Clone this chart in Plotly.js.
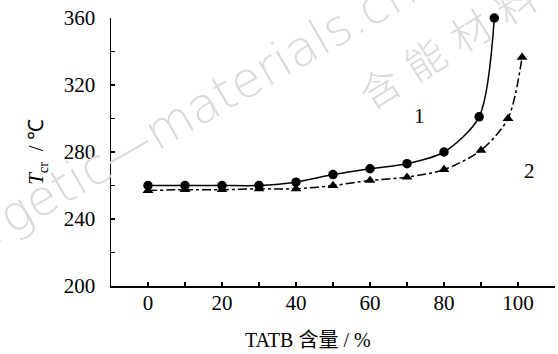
<!DOCTYPE html>
<html>
<head>
<meta charset="utf-8">
<script src="https://cdn.plot.ly/plotly-3.0.1.min.js"></script>
<style>html,body{margin:0;padding:0;background:#fff;}#chart{width:558px;height:354px;}</style>
</head>
<body>
<div id="chart"></div>
<script>
// Series 1 (circles, solid)
const x1 = [0, 10, 20, 30, 40, 50, 60, 70, 80, 89.5, 93.6];
const y1 = [260, 260, 260, 260, 262, 266.5, 270, 273, 280, 301, 360];
// Series 2 (triangles, dash-dot)
const x2 = [0, 10, 20, 30, 40, 50, 60, 70, 80, 90, 97.3, 101.1];
const y2 = [257, 257.5, 257.5, 258, 258, 260, 263, 265, 269.5, 281, 300, 336.5];

const xTickVals = [0, 20, 40, 60, 80, 100];
const xTickText = ['0', '20', '40', '60', '80', '100'];
const yTickVals = [200, 240, 280, 320, 360];
const yTickText = ['200', '240', '280', '320', '360'];

const serif = 'Liberation Serif, Times New Roman, serif';

const traces = [
  {
    x: x1, y: y1, mode: 'lines+markers', name: '1',
    line: {color: '#000', width: 1.5, shape: 'spline', smoothing: 0.8},
    marker: {symbol: 'circle', size: 9.5, color: '#000'},
    cliponaxis: false
  },
  {
    x: x2, y: y2, mode: 'lines+markers', name: '2',
    line: {color: '#000', width: 1.5, shape: 'spline', smoothing: 0.8, dash: 'dashdot'},
    marker: {symbol: 'triangle-up', size: 9.5, color: '#000'},
    cliponaxis: false
  }
];

const layout = {
  width: 558, height: 354,
  margin: {l: 111, r: 3, t: 18, b: 68},
  paper_bgcolor: '#fff', plot_bgcolor: 'rgba(0,0,0,0)',
  showlegend: false,
  font: {family: serif, size: 21, color: '#000'},
  xaxis: {
    range: [-10, 110], tickvals: xTickVals, ticktext: xTickText,
    ticks: 'inside', ticklen: 4, tickwidth: 1.2, tickcolor: '#000',
    minor: {tick0: 0, dtick: 10, ticks: 'inside', ticklen: 4, tickwidth: 1.2, tickcolor: '#000', showgrid: false},
    showline: true, linecolor: '#000', linewidth: 1.5,
    showgrid: false, zeroline: false,
    ticklabelstandoff: -3,
    tickfont: {family: serif, size: 21, color: '#000'}
  },
  yaxis: {
    range: [200, 360], tickvals: yTickVals, ticktext: yTickText,
    ticks: 'inside', ticklen: 4, tickwidth: 1.2, tickcolor: '#000',
    minor: {tick0: 200, dtick: 20, ticks: 'inside', ticklen: 4, tickwidth: 1.2, tickcolor: '#000', showgrid: false},
    showline: true, linecolor: '#000', linewidth: 1.5,
    showgrid: false, zeroline: false,
    tickfont: {family: serif, size: 21, color: '#000'},
    ticklabelstandoff: 10,
    title: {text: '<i>T</i><sub>cr</sub>  / ℃', font: {family: serif, size: 21, color: '#000'}, standoff: 14}
  },
  annotations: [
    {text: 'energetic—materials.cn', xref: 'paper', yref: 'paper', x: 0.110, y: 0.580,
     xanchor: 'center', yanchor: 'middle',
     showarrow: false, textangle: -30, font: {family: 'DejaVu Sans, sans-serif', size: 49, weight: 200, color: '#dadada'}},
    {text: '含\u2004能\u2004材\u2004料', xref: 'paper', yref: 'paper', x: 0.756, y: 0.902,
     xanchor: 'center', yanchor: 'middle',
     showarrow: false, textangle: -32, font: {family: 'Noto Sans CJK SC, sans-serif', size: 40, weight: 300, color: '#dadada'}},
    {text: 'TATB 含量 / %', xref: 'paper', yref: 'paper', x: (308 - 111) / 444, y: -0.2,
     xanchor: 'center', yanchor: 'middle', showarrow: false,
     font: {family: serif + ', Noto Sans CJK SC', size: 20, color: '#000'}},
    {text: '1', xref: 'x', yref: 'y', x: 73.4, y: 301.7, showarrow: false,
     font: {family: serif, size: 21, color: '#000'}},
    {text: '2', xref: 'x', yref: 'y', x: 103, y: 268.8, showarrow: false,
     font: {family: serif, size: 21, color: '#000'}}
  ]
};

Plotly.newPlot('chart', traces, layout, {displayModeBar: false, staticPlot: true});
</script>
</body>
</html>
